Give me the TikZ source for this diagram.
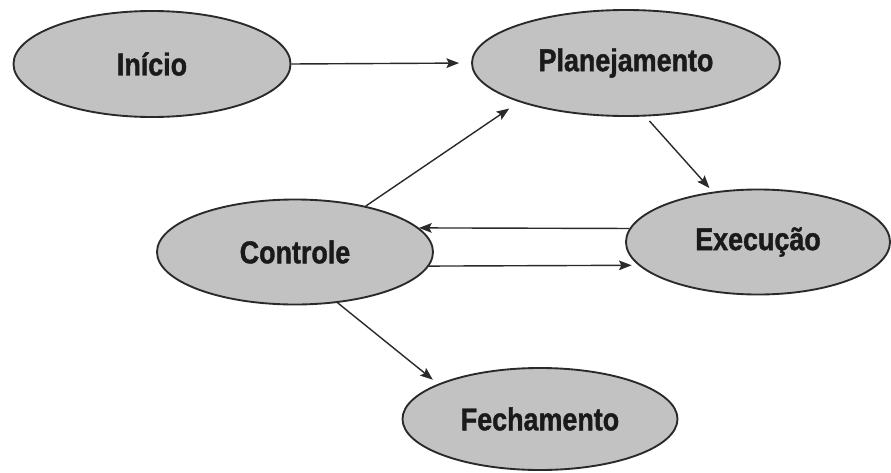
\documentclass[tikz,border=0pt]{standalone}
\usepackage{fontspec}
\usepackage{tikz}
\usetikzlibrary{arrows.meta,positioning,shapes.geometric}
\newfontfamily\phasefont{Liberation Sans}[FakeStretch=0.85,FakeBold=1.2]
\definecolor{phFill}{HTML}{C2C2C2}
\definecolor{phLine}{HTML}{2A2A2A}
\definecolor{phText}{HTML}{1A1A1A}
\tikzset{
  >={Stealth[length=3.8mm,width=2.9mm,inset=0.7mm]},
  phase/.style={ellipse, draw=phLine, fill=phFill, line width=1.6pt,
              inner sep=0pt, text=phText, font=\phasefont\bfseries\fontsize{27}{32}\selectfont},
  flow/.style={->, draw=phLine, line width=1.2pt, shorten >=2mm},
}

\begin{document}
\begin{tikzpicture}[x=0.03cm,y=-0.03cm]
        \useasboundingbox (0,0) rectangle (891,472);
        \node[phase,minimum width=8.31cm,minimum height=3.18cm] (ini) at (152,64){Início};
        \node[phase,minimum width=9.24cm,minimum height=3.18cm] (plan) at (626,63){Planejamento};
        \node[phase,minimum width=8.28cm,minimum height=3.15cm] (ctrl) at (295,252){Controle};
        \node[phase,minimum width=7.92cm,minimum height=3.15cm] (exec) at (758,242){Execução};
        \node[phase,minimum width=8.25cm,minimum height=3.06cm] (fech) at (540,419){Fechamento};
        \draw[flow,shorten >=3.6mm](ini.east)--(plan.west);
        \draw[flow,shorten >=3.5mm](ctrl.33)--(plan.-160);
        \draw[flow,shorten <=1.8mm,shorten >=1.5mm](plan.-70)--(exec.132);
        \draw[flow,shorten >=0mm](exec.174)--(ctrl.11);
        \draw[flow](ctrl.-6)--(exec.-169);
        \draw[flow](ctrl.-50)--(fech.161);
      \end{tikzpicture}
\end{document}
